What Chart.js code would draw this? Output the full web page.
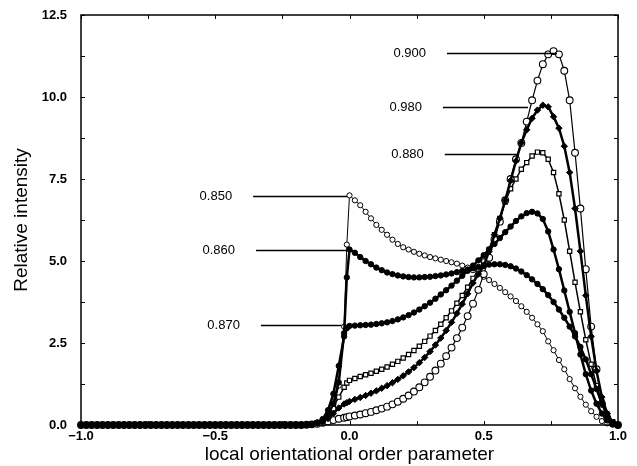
<!DOCTYPE html>
<html><head><meta charset="utf-8">
<script src="https://cdn.jsdelivr.net/npm/chart.js@4.4.1/dist/chart.umd.min.js"></script>
<style>html,body{margin:0;padding:0;background:#fff;}#wrap{width:637px;height:466px;}</style>
</head><body><div id="wrap"><canvas id="c" width="637" height="466"></canvas></div>
<script>
// x values (local orientational order parameter)
const xValues = [
 -1.00,-0.98,-0.96,-0.94,-0.92,-0.90,-0.88,-0.86,-0.84,-0.82,
 -0.80,-0.78,-0.76,-0.74,-0.72,-0.70,-0.68,-0.66,-0.64,-0.62,
 -0.60,-0.58,-0.56,-0.54,-0.52,-0.50,-0.48,-0.46,-0.44,-0.42,
 -0.40,-0.38,-0.36,-0.34,-0.32,-0.30,-0.28,-0.26,-0.24,-0.22,
 -0.20,
 -0.18,-0.16,-0.14,-0.12,-0.10,-0.08,-0.06,-0.04,-0.02,
 -0.01,
 0.00,0.02,0.04,0.06,0.08,0.10,0.12,0.14,0.16,0.18,
 0.20,0.22,0.24,0.26,0.28,0.30,0.32,0.34,0.36,0.38,
 0.40,0.42,0.44,0.46,0.48,0.50,0.52,0.54,0.56,0.58,
 0.60,0.62,0.64,0.66,0.68,0.70,0.72,0.74,0.76,0.78,
 0.80,0.82,0.84,0.86,0.88,0.90,0.92,0.94,0.96,0.98,
 1.00
];
// Relative intensity for each series (same order as xValues)
const s850 = [
 0,0,0,0,0,0,0,0,0,0, 0,0,0,0,0,0,0,0,0,0, 0,0,0,0,0,0,0,0,0,0, 0,0,0,0,0,0,0,0,0,0, 0,
 0,0,0.02,0.05,0.1,0.25,0.5,1.2,3.0,
 5.5,
 7.0,6.85,6.7,6.5,6.3,6.1,5.95,5.8,5.65,5.52,
 5.42,5.35,5.28,5.22,5.17,5.12,5.08,5.04,5.0,4.96,
 4.92,4.86,4.8,4.72,4.62,4.52,4.42,4.3,4.18,4.05,
 3.92,3.78,3.62,3.45,3.27,3.07,2.86,2.55,2.28,1.98,
 1.7,1.4,1.12,0.86,0.62,0.42,0.25,0.12,0.05,0.01,
 0
];
const s860 = [
 0,0,0,0,0,0,0,0,0,0, 0,0,0,0,0,0,0,0,0,0, 0,0,0,0,0,0,0,0,0,0, 0,0,0,0,0,0,0,0,0,0, 0,
 0,0,0.02,0.06,0.12,0.3,0.65,1.3,2.8,
 4.5,
 5.35,5.25,5.12,5.0,4.9,4.8,4.72,4.65,4.6,4.56,
 4.53,4.51,4.5,4.5,4.51,4.52,4.54,4.56,4.59,4.62,
 4.66,4.7,4.74,4.78,4.82,4.86,4.89,4.9,4.9,4.88,
 4.84,4.77,4.68,4.57,4.44,4.3,4.14,3.96,3.75,3.52,
 3.27,3.0,2.7,2.38,2.0,1.55,1.1,0.65,0.3,0.08,
 0
];
const s870 = [
 0,0,0,0,0,0,0,0,0,0, 0,0,0,0,0,0,0,0,0,0, 0,0,0,0,0,0,0,0,0,0, 0,0,0,0,0,0,0,0,0,0, 0,
 0,0.01,0.03,0.08,0.18,0.45,0.95,1.8,2.7,
 2.95,
 3.02,3.03,3.04,3.05,3.06,3.08,3.1,3.13,3.17,3.22,
 3.28,3.35,3.43,3.52,3.62,3.73,3.85,3.98,4.11,4.25,
 4.4,4.55,4.7,4.86,5.02,5.18,5.35,5.52,5.7,5.88,
 6.05,6.22,6.36,6.46,6.5,6.45,6.28,5.9,5.35,4.75,
 4.1,3.45,2.8,2.15,1.55,1.05,0.65,0.35,0.14,0.03,
 0
];
const s880 = [
 0,0,0,0,0,0,0,0,0,0, 0,0,0,0,0,0,0,0,0,0, 0,0,0,0,0,0,0,0,0,0, 0,0,0,0,0,0,0,0,0,0, 0,
 0,0.01,0.03,0.07,0.15,0.3,0.55,0.85,1.15,
 1.28,
 1.36,1.42,1.48,1.53,1.58,1.64,1.7,1.77,1.85,1.94,
 2.04,2.15,2.27,2.4,2.55,2.71,2.88,3.07,3.27,3.48,
 3.71,3.95,4.2,4.47,4.73,5.0,5.35,5.8,6.3,6.8,
 7.2,7.5,7.8,8.0,8.2,8.32,8.3,8.1,7.7,7.05,
 6.25,5.3,4.35,3.45,2.6,1.85,1.2,0.7,0.33,0.1,
 0
];
const s980 = [
 0,0,0,0,0,0,0,0,0,0, 0,0,0,0,0,0,0,0,0,0, 0,0,0,0,0,0,0,0,0,0, 0,0,0,0,0,0,0,0,0,0, 0,
 0,0.01,0.02,0.05,0.1,0.2,0.35,0.52,0.64,
 0.68,
 0.72,0.78,0.84,0.9,0.97,1.04,1.12,1.2,1.29,1.39,
 1.5,1.62,1.75,1.9,2.06,2.24,2.44,2.65,2.88,3.13,
 3.4,3.69,4.0,4.33,4.6,4.85,5.3,5.8,6.3,6.85,
 7.45,8.05,8.6,9.0,9.35,9.6,9.75,9.7,9.4,9.05,
 8.5,7.7,6.6,5.3,3.95,2.7,1.65,0.85,0.35,0.08,
 0
];
const s900 = [
 0,0,0,0,0,0,0,0,0,0, 0,0,0,0,0,0,0,0,0,0, 0,0,0,0,0,0,0,0,0,0, 0,0,0,0,0,0,0,0,0,0, 0,
 0,0.01,0.02,0.04,0.07,0.11,0.15,0.19,0.22,
 0.24,
 0.26,0.29,0.32,0.36,0.4,0.45,0.5,0.56,0.63,0.71,
 0.8,0.9,1.02,1.15,1.3,1.47,1.66,1.87,2.1,2.36,
 2.65,2.97,3.32,3.7,4.12,4.6,5.1,5.65,6.2,6.85,
 7.5,8.1,8.6,9.25,9.9,10.5,11.0,11.3,11.4,11.3,
 10.8,9.9,8.3,6.6,4.75,3.0,1.7,0.65,0.2,0.05,
 0
];
const seriesNames = ['0.850','0.860','0.870','0.880','0.980','0.900'];
const xTickValues = [-1.0, -0.5, 0.0, 0.5, 1.0];
const yTickValues = [0, 2.5, 5.0, 7.5, 10.0, 12.5];

// leader-line annotations (data coordinates)
const labelTexts = ['0.900','0.980','0.880','0.850','0.860','0.870'];
const labelLevels = [11.34, 9.7, 8.26, 6.98, 5.33, 3.05];
const labelLineFrom = [0.363, 0.348, 0.355, -0.359, -0.348, -0.33];
const labelLineTo = [0.773, 0.665, 0.624, -0.009, -0.009, -0.03];

const toPts = ys => xValues.map((x, i) => ({x: x, y: ys[i]}));
const fmt = v => { const s = Number(v).toFixed(1); return s.startsWith('-') ? '\u2212' + s.slice(1) : s; };

const styles = [
  {data: s850, pointStyle: 'circle', r: 2.6, bg: '#fff', bw: 1, lw: 1, order: 4},
  {data: s860, pointStyle: 'circle', r: 2.7, bg: '#000', bw: 1, lw: 2.5, order: 0},
  {data: s870, pointStyle: 'circle', r: 2.7, bg: '#000', bw: 1, lw: 2.5, order: 1},
  {data: s880, pointStyle: 'rect', r: 3.0, bg: '#fff', bw: 1.2, lw: 1.5, order: 5},
  {data: s980, pointStyle: 'rectRot', r: 3.2, bg: '#000', bw: 1, lw: 2.5, order: 2},
  {data: s900, pointStyle: 'circle', r: 3.4, bg: '#fff', bw: 1.1, lw: 1.2, order: 3}
];

const datasets = styles.map((st, i) => ({
  label: seriesNames[i],
  data: toPts(st.data),
  borderColor: '#000',
  borderWidth: st.lw,
  pointStyle: st.pointStyle,
  pointRadius: st.r,
  pointBackgroundColor: st.bg,
  pointBorderColor: '#000',
  pointBorderWidth: st.bw,
  order: st.order,
  tension: 0,
  clip: false
}));

const framePlugin = {
  id: 'frame',
  afterDatasetsDraw(chart) {
    const {ctx, chartArea: a, scales: {x, y}} = chart;
    ctx.save();
    ctx.strokeStyle = '#000';
    ctx.lineWidth = 1.5;
    ctx.strokeRect(a.left, a.top, a.right - a.left, a.bottom - a.top);
    ctx.lineWidth = 1;
    const len = 4;
    const yv = [];
    yTickValues.forEach((v, i) => { yv.push(v); if (i < yTickValues.length - 1) yv.push((v + yTickValues[i + 1]) / 2); });
    ctx.beginPath();
    yv.forEach(v => {
      const py = Math.round(y.getPixelForValue(v)) + 0.5;
      ctx.moveTo(a.left, py); ctx.lineTo(a.left + len, py);
      ctx.moveTo(a.right, py); ctx.lineTo(a.right - len, py);
    });
    const xv = [];
    xTickValues.forEach((v, i) => { xv.push(v); if (i < xTickValues.length - 1) xv.push((v + xTickValues[i + 1]) / 2); });
    xv.forEach(v => {
      const px = Math.round(x.getPixelForValue(v)) + 0.5;
      ctx.moveTo(px, a.bottom); ctx.lineTo(px, a.bottom - len);
      ctx.moveTo(px, a.top); ctx.lineTo(px, a.top + len);
    });
    ctx.stroke();
    ctx.font = '13px "Liberation Sans", Arial, sans-serif';
    ctx.fillStyle = '#000';
    ctx.textAlign = 'right';
    ctx.textBaseline = 'middle';
    ctx.lineWidth = 1.4;
    labelTexts.forEach((t, i) => {
      const py = Math.round(y.getPixelForValue(labelLevels[i])) + 0.5;
      const x0 = x.getPixelForValue(labelLineFrom[i]);
      const x1 = x.getPixelForValue(labelLineTo[i]);
      ctx.beginPath(); ctx.moveTo(x0, py); ctx.lineTo(x1, py); ctx.stroke();
      ctx.fillText(t, x0 - 21, py);
    });
    ctx.restore();
  }
};

const tickFont = {family: '"Liberation Sans", Arial, sans-serif', size: 13, weight: 'bold'};
const titleFont = {family: '"Liberation Sans", Arial, sans-serif', size: 19, weight: 'normal'};

new Chart(document.getElementById('c'), {
  type: 'line',
  data: {datasets},
  options: {
    responsive: false,
    devicePixelRatio: 1,
    animation: false,
    events: [],
    layout: {padding: {top: 15, right: 19, left: 0, bottom: 0}},
    plugins: {legend: {display: false}, tooltip: {enabled: false}},
    scales: {
      x: {
        type: 'linear', min: -1, max: 1,
        grid: {display: false, drawTicks: false},
        border: {display: false},
        afterBuildTicks: s => { s.ticks = xTickValues.map(v => ({value: v})); },
        afterFit: s => { s.height = 41; s.paddingLeft = 0; s.paddingRight = 0; },
        ticks: {color: '#000', font: tickFont, padding: 4, maxRotation: 0, callback: v => fmt(v)},
        title: {display: true, text: 'local orientational order parameter', color: '#000', font: titleFont, padding: {top: 0, bottom: 0}}
      },
      y: {
        type: 'linear', min: 0, max: 12.5,
        grid: {display: false, drawTicks: false},
        border: {display: false},
        afterBuildTicks: s => { s.ticks = yTickValues.map(v => ({value: v})); },
        afterFit: s => { s.width = 81; s.paddingTop = 0; s.paddingBottom = 0; },
        ticks: {color: '#000', font: tickFont, padding: 14, callback: v => fmt(v)},
        title: {display: true, text: 'Relative intensity', color: '#000', font: titleFont, padding: {top: 10, bottom: 0}}
      }
    }
  },
  plugins: [framePlugin]
});
</script>
</body></html>
